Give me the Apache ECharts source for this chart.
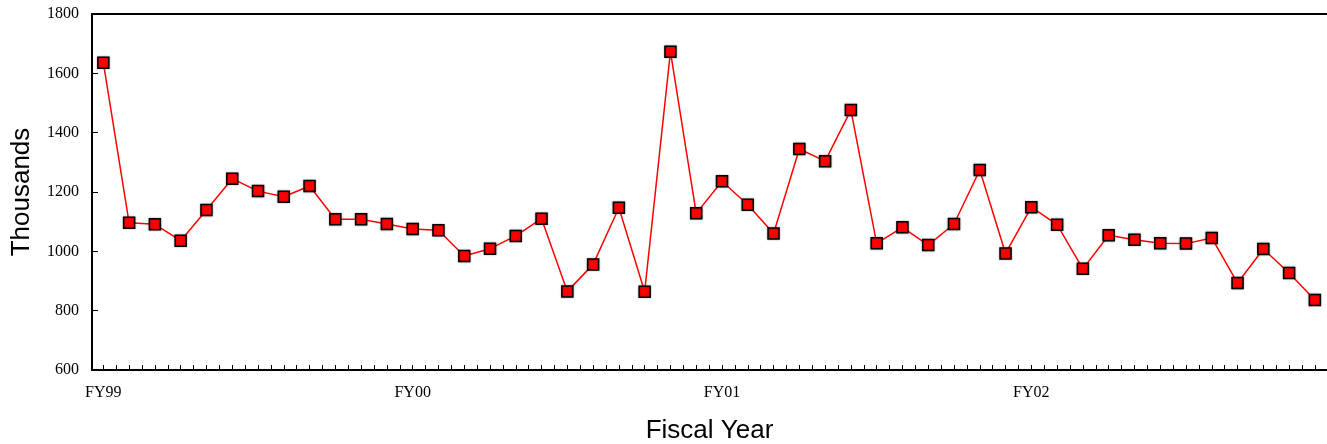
<!DOCTYPE html>
<html>
<head>
<meta charset="utf-8">
<script src="https://cdn.jsdelivr.net/npm/echarts@6/dist/echarts.min.js"></script>
<style>
  html, body { margin: 0; padding: 0; background: #fff; }
  #chart { width: 1327px; height: 444px; }
</style>
</head>
<body>
<div id="chart"></div>
<script>
// monthly values, FY99 .. FY02 (thousands)
const values = [
  1636, 1096, 1091, 1036, 1139, 1245, 1203, 1184, 1220, 1108, 1108, 1092,
  1075, 1071, 984, 1009, 1052, 1110, 865, 956, 1147, 864, 1673, 1128,
  1236, 1157, 1060, 1345, 1304, 1476, 1027, 1081, 1021, 1092, 1274, 993,
  1149, 1090, 941, 1054, 1039, 1027, 1026, 1045, 893, 1008, 927, 836
];

// fiscal year tick labels and the month index they sit on
const yearLabels = ['FY99', 'FY00', 'FY01', 'FY02'];
const yearIndex = [0, 12, 24, 36];

var chartDom = document.getElementById('chart');
var myChart = echarts.init(chartDom);
var option;

// minor ticks every half month
const tickValues = [];
for (let t = 0; t <= values.length - 0.5; t += 0.5) tickValues.push(t);

const serif = '"Liberation Serif", "DejaVu Serif", serif';
const sans = '"Liberation Sans", Arial, sans-serif';

option = {
  animation: false,
  grid: { left: 92, right: 0, top: 14, bottom: 74, outerBoundsMode: 'none', containLabel: false },
  xAxis: [
    {
      type: 'value',
      min: -0.44,
      max: 47.47,
      name: 'Fiscal Year',
      nameLocation: 'middle',
      nameGap: 48,
      nameTextStyle: { fontFamily: sans, fontSize: 26, color: '#000' },
      axisLine: { show: true, onZero: false, lineStyle: { color: '#000', width: 2 } },
      axisTick: {
        show: true,
        inside: true,
        length: 5,
        customValues: tickValues,
        lineStyle: { color: '#000', width: 1 },
      },
      axisLabel: {
        customValues: yearIndex,
        margin: 15,
        fontFamily: serif,
        fontSize: 16,
        color: '#000',
        formatter: (v) => {
          const k = yearIndex.indexOf(Math.round(v));
          return k >= 0 ? yearLabels[k] : '';
        },
      },
      splitLine: { show: false },
    },
    {
      // top border line
      type: 'value',
      position: 'top',
      min: -0.44,
      max: 47.47,
      axisLine: { show: true, onZero: false, lineStyle: { color: '#000', width: 2 } },
      axisTick: { show: false },
      axisLabel: { show: false },
      splitLine: { show: false },
    },
  ],
  yAxis: [
    {
      type: 'value',
      min: 600,
      max: 1800,
      interval: 200,
      name: 'Thousands',
      nameLocation: 'middle',
      nameGap: 57,
      nameTextStyle: { fontFamily: sans, fontSize: 26, color: '#000' },
      axisLine: { show: true, onZero: false, lineStyle: { color: '#000', width: 2 } },
      axisTick: { show: true, inside: true, length: 6, lineStyle: { color: '#000', width: 1 } },
      axisLabel: {
        margin: 13,
        fontFamily: serif,
        fontSize: 16,
        color: '#000',
        formatter: (v) => String(v),
      },
      splitLine: { show: false },
    },
  ],
  series: [
    {
      type: 'line',
      data: values.map((v, i) => [i, v]),
      symbol: 'rect',
      symbolSize: 11,
      lineStyle: { color: '#ff0000', width: 1.5 },
      itemStyle: {
        color: '#ff0000',
        borderColor: '#000',
        borderWidth: 1.5,
        shadowColor: 'rgba(0,0,0,0.35)',
        shadowBlur: 2,
      },
    },
  ],
};

option && myChart.setOption(option);
</script>
</body>
</html>
